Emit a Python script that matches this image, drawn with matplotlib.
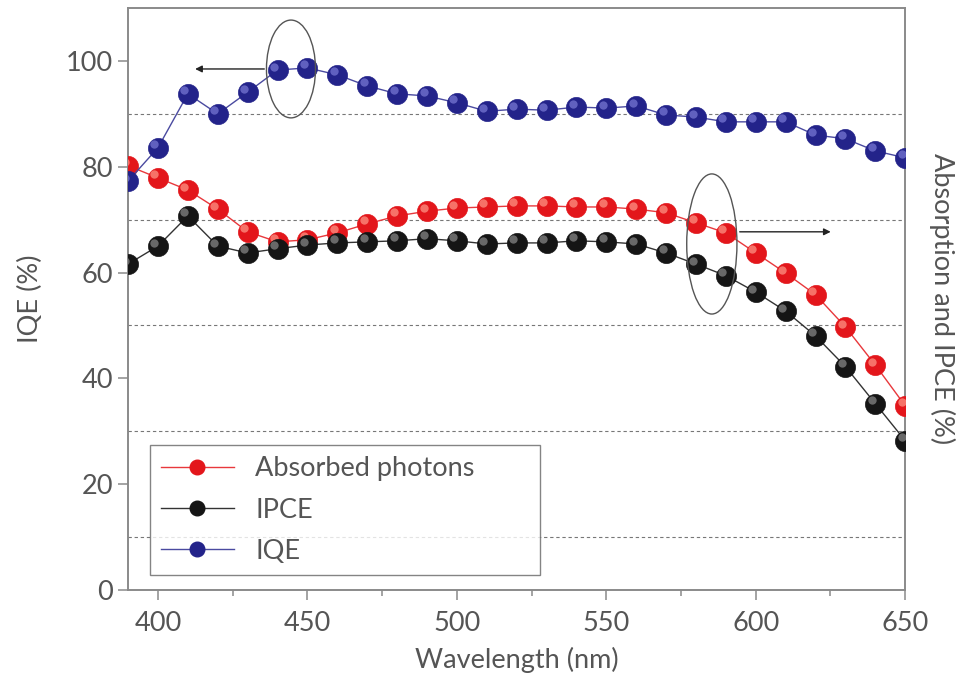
import numpy as np
import matplotlib
matplotlib.use("Agg")
import matplotlib.pyplot as plt
from matplotlib.patches import Ellipse
from matplotlib.transforms import offset_copy

plt.rcParams['font.family'] = ['Lato', 'DejaVu Sans']

wavelength = [390, 400, 410, 420, 430, 440, 450, 460, 470, 480, 490, 500, 510, 520,
              530, 540, 550, 560, 570, 580, 590, 600, 610, 620, 630, 640, 650]
iqe = [77.3, 83.6, 93.8, 90.0, 94.1, 98.3, 98.7, 97.4, 95.3, 93.8, 93.4, 92.1, 90.5, 90.9,
       90.7, 91.3, 91.1, 91.5, 89.8, 89.4, 88.5, 88.5, 88.5, 86.0, 85.3, 83.0, 81.7]
absorbed = [80.2, 77.9, 75.6, 72.0, 67.7, 65.8, 66.2, 67.5, 69.2, 70.7, 71.6, 72.2, 72.4, 72.6,
            72.6, 72.4, 72.4, 72.0, 71.3, 69.4, 67.5, 63.7, 59.9, 55.8, 49.7, 42.5, 34.8]
ipce = [61.6, 65.0, 70.7, 65.0, 63.7, 64.5, 65.2, 65.6, 65.8, 66.0, 66.4, 66.0, 65.4, 65.6,
        65.6, 66.0, 65.8, 65.4, 63.7, 61.6, 59.4, 56.3, 52.7, 48.0, 42.2, 35.2, 28.2]

left_ticks = [0, 20, 40, 60, 80, 100]
right_grid = [10, 30, 50, 70, 90]

grey = '#8a8a8a'
txt = '#555555'
fs = 19.5

fig = plt.figure(figsize=(9.63, 6.81), dpi=100)
ax = fig.add_axes([0.133, 0.134, 0.807, 0.854])
ax2 = ax.twinx()

for a in (ax, ax2):
    a.set_xlim(390, 650)
    a.set_ylim(0, 110)
    for s in a.spines.values():
        s.set_color(grey)
        s.set_linewidth(1.2)

# dashed guide lines belong to the right axis
ax2.set_yticks(right_grid)
ax2.tick_params(axis='y', length=0, labelright=False)
ax2.grid(axis='y', linestyle=(0, (3, 2.5)), color='#777777', linewidth=0.8)
ax2.set_ylabel('Absorption and IPCE (%)', rotation=270, labelpad=36, fontsize=fs, color=txt)


def spheres(a, x, y, base, line_c, shine, label, z):
    a.plot(x, y, '-', color=line_c, lw=1.0, zorder=z)
    a.plot(x, y, 'o', ms=14.5, mfc=base, mec=base, mew=0.5, zorder=z + 0.05)
    hl = offset_copy(a.transData, fig=fig, x=-2.5, y=2.5, units='points')
    a.plot(x, y, 'o', ms=6, mfc=shine, mec='none', alpha=0.7, transform=hl, zorder=z + 0.1)
    # proxy handle for the legend: smaller ball on a line
    h, = a.plot([], [], '-', color=line_c, lw=1.0, marker='o', ms=10.5,
                mfc=base, mec=base, label=label)
    return h


h_abs = spheres(ax2, wavelength, absorbed, '#e3161b', '#e8383c', '#ff9a8a', 'Absorbed photons', 3)
h_ipce = spheres(ax2, wavelength, ipce, '#151515', '#333333', '#8c8c8c', 'IPCE', 3.5)
h_iqe = spheres(ax2, wavelength, iqe, '#23238a', '#4a4aa0', '#7b7bd6', 'IQE', 4)

ax.set_yticks(left_ticks)
ax.set_xticks([400, 450, 500, 550, 600, 650])
ax.set_xticks([425, 475, 525, 575, 625], minor=True)
ax.tick_params(axis='both', direction='out', color=grey, labelcolor=txt, labelsize=fs,
               length=7, width=1.1, pad=4)
ax.tick_params(axis='x', which='minor', direction='out', color=grey, length=4, width=1.1)
ax.tick_params(axis='x', pad=8)
ax.set_xlabel('Wavelength (nm)', fontsize=fs, color=txt, labelpad=8)
ax.set_ylabel('IQE (%)', fontsize=fs, color=txt, labelpad=16)

# ellipses and arrows
ax2.add_patch(Ellipse((444.5, 98.5), 16.4, 18.5, fill=False, ec='#555555', lw=1.0, zorder=6))
ax2.annotate('', xy=(411.5, 98.5), xytext=(436.5, 98.5),
             arrowprops=dict(arrowstyle='-|>', color='#222222', lw=1.0, mutation_scale=10), zorder=6)
ax2.add_patch(Ellipse((585.3, 65.4), 16.8, 26.5, fill=False, ec='#555555', lw=1.0, zorder=6))
ax2.annotate('', xy=(626, 67.7), xytext=(593.7, 67.7),
             arrowprops=dict(arrowstyle='-|>', color='#222222', lw=1.0, mutation_scale=10), zorder=6)

leg = ax2.legend(handles=[h_abs, h_ipce, h_iqe], loc='lower left', mode='expand',
                 bbox_to_anchor=(0.028, 0.026, 0.502, 0.223), fontsize=fs, frameon=True,
                 fancybox=False, edgecolor='#666666', handlelength=2.7, borderpad=0.4,
                 labelspacing=0.6, handletextpad=0.8, borderaxespad=0)
leg.get_frame().set_linewidth(1.0)
for t in leg.get_texts():
    t.set_color(txt)

fig.savefig('out.png', dpi=100)
